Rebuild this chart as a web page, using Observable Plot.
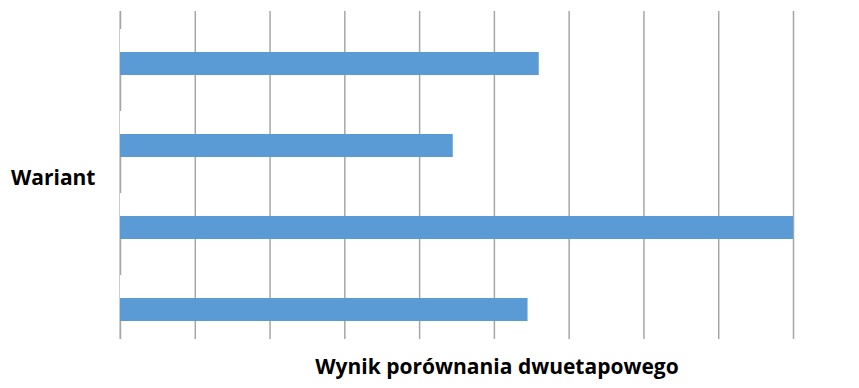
<!DOCTYPE html>
<html>
<head>
<meta charset="utf-8">
<script src="https://cdn.jsdelivr.net/npm/d3@7"></script>
<script src="https://cdn.jsdelivr.net/npm/@observablehq/plot@0.6"></script>
<style>
  html, body { margin: 0; padding: 0; background: #fff; }
  #chart svg { display: block; }
  #chart svg text.xlab { letter-spacing: 0.6px; }
</style>
</head>
<body>
<div id="chart"></div>
<script>
// Data
const categories = ["1", "2", "3", "4"];
const seriesNames = ["ukryta", "wynik"];
const values = [5.6, 4.45, 9.0, 5.45];          // blue bars
const hiddenValues = [0.03, 0.31, 0.03, 0.11];  // white (invisible) series
const gridTicks = [0, 1, 2, 3, 4, 5, 6, 7, 8, 9];
const xLabel = "Wynik porównania dwuetapowego";
const yLabel = "Wariant";

const rows = [];
categories.forEach((c, i) => {
  rows.push({cat: c, series: seriesNames[0], value: hiddenValues[i]});
  rows.push({cat: c, series: seriesNames[1], value: values[i]});
});

const font = "'Open Sans', Lato, sans-serif";

const chart = Plot.plot({
  width: 859,
  height: 388,
  marginLeft: 120,
  marginRight: 66,
  marginTop: 10,
  marginBottom: 48,
  style: {fontFamily: font, background: "#fff"},
  x: {domain: [0, 9], axis: null},
  y: {domain: seriesNames, axis: null, paddingInner: 0, paddingOuter: 0.71875},
  fy: {domain: categories, axis: null, padding: 0},
  color: {domain: seriesNames, range: ["#ffffff", "#5b9bd5"]},
  marks: [
    Plot.ruleX([0], {stroke: "#d9d9d9", strokeWidth: 1, dx: -1}),
    Plot.ruleX(gridTicks, {stroke: "#a6a6a6", strokeWidth: 1.5}),
    Plot.barX(rows, {fy: "cat", y: "series", x: "value", fill: "series"}),
    Plot.text([yLabel], {facet: "super", frameAnchor: "left", textAnchor: "end", dx: -25, dy: 3,
      fontWeight: "bold", fontSize: 21, fill: "#000"}),
    Plot.text([xLabel], {facet: "super", frameAnchor: "bottom", dx: 40, dy: 34,
      fontWeight: "bold", fontSize: 21, fill: "#000", className: "xlab"})
  ]
});
document.getElementById("chart").appendChild(chart);
</script>
</body>
</html>
